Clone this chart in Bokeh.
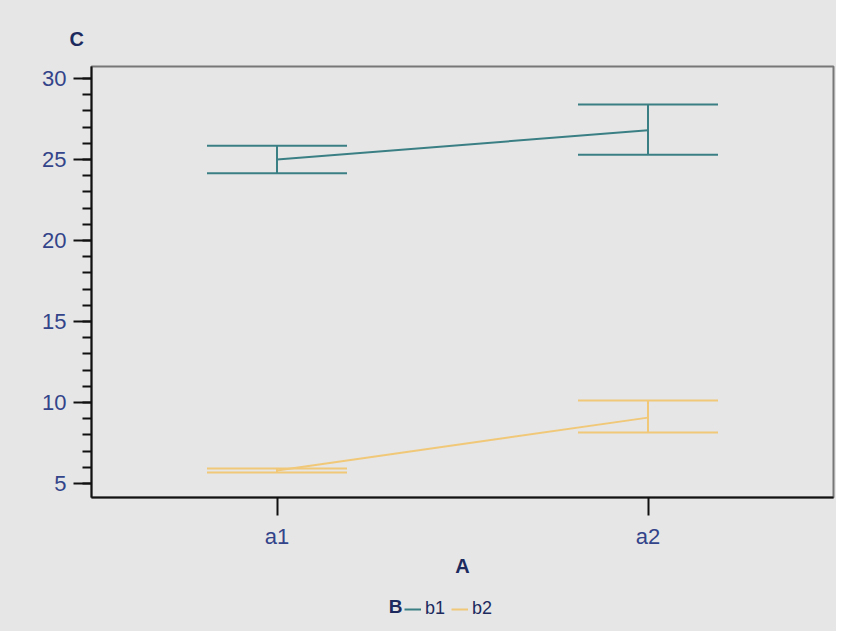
from bokeh.plotting import figure
from bokeh.layouts import column
from bokeh.models import (ColumnDataSource, Whisker, TeeHead, FixedTicker, SingleIntervalTicker,
                          Range1d, Legend, LegendItem, Label)
from bokeh.embed import file_html
from bokeh.resources import INLINE

# data
factors = ["a1", "a2"]
groups = ["b1", "b2"]
b1_mean = [25.0, 26.8]
b1_lower = [24.15, 25.3]
b1_upper = [25.85, 28.4]
b2_mean = [5.8, 9.07]
b2_lower = [5.68, 8.15]
b2_upper = [5.93, 10.12]
colors = {"b1": "#3a7f84", "b2": "#f0c878"}

xpos = [i + 1 for i in range(len(factors))]

BG = "#e6e6e6"
LABEL_COL = "#33448a"
TITLE_COL = "#1c2a5e"
FONT = "Liberation Sans"
W = 836
LEFT, RIGHT = 91, 3

p = figure(width=W, height=585, output_backend="svg", toolbar_location=None,
           x_range=Range1d(0.5, 2.5), y_range=Range1d(4.14, 30.74))
p.background_fill_color = BG
p.border_fill_color = BG
p.outline_line_color = "#777777"
p.outline_line_width = 2
p.min_border_left = LEFT
p.min_border_right = RIGHT
p.min_border_top = 66
p.min_border_bottom = 88
p.grid.visible = False

# title "C" above the y axis
p.title.text = "C"
p.title.align = "left"
p.title.offset = -22
p.title.standoff = 33
p.title.text_font = FONT
p.title.text_font_style = "bold"
p.title.text_font_size = "20px"
p.title.text_color = TITLE_COL

# x axis
p.xaxis.ticker = FixedTicker(ticks=xpos)
p.xaxis.major_label_overrides = {x: f for x, f in zip(xpos, factors)}
p.xaxis.minor_tick_line_color = None
# y axis
p.yaxis.ticker = SingleIntervalTicker(interval=5, num_minor_ticks=5)
p.yaxis.minor_tick_out = 9
p.yaxis.minor_tick_in = 0
for ax in (p.xaxis, p.yaxis):
    ax.axis_line_color = "#111111"
    ax.axis_line_width = 2
    ax.major_tick_line_color = "#111111"
    ax.major_tick_line_width = 2
    ax.major_tick_out = 18
    ax.major_tick_in = 0
    ax.minor_tick_line_width = 2
    ax.major_label_text_font = FONT
    ax.major_label_text_font_size = "22px"
    ax.major_label_text_color = LABEL_COL
p.yaxis.minor_tick_line_color = "#111111"
p.yaxis.major_label_standoff = 7
p.xaxis.major_label_standoff = 8
p.xaxis.axis_label = "A"
p.xaxis.axis_label_text_font = FONT
p.xaxis.axis_label_text_font_style = "bold"
p.xaxis.axis_label_text_font_size = "20px"
p.xaxis.axis_label_text_color = TITLE_COL
p.xaxis.axis_label_standoff = 3

series = {"b1": (b1_mean, b1_lower, b1_upper), "b2": (b2_mean, b2_lower, b2_upper)}
for g in groups:
    m, lo, hi = series[g]
    src = ColumnDataSource(dict(x=xpos, m=m, lo=lo, hi=hi))
    p.line("x", "m", source=src, line_color=colors[g], line_width=2)
    w = Whisker(base="x", lower="lo", upper="hi", source=src, line_color=colors[g], line_width=2,
                upper_head=TeeHead(size=140, line_color=colors[g], line_width=2),
                lower_head=TeeHead(size=140, line_color=colors[g], line_width=2))
    p.add_layout(w)

# legend strip below the chart (pixel coordinates relative to the frame, offset so
# the series' own lines fall outside its visible range)
LH = 46
Y0 = 1000
q = figure(width=W, height=LH, output_backend="svg", toolbar_location=None,
           x_range=Range1d(0, W - LEFT - RIGHT), y_range=Range1d(Y0, Y0 + LH),
           min_border_left=LEFT, min_border_right=RIGHT, min_border_top=0, min_border_bottom=0)
q.background_fill_color = BG
q.border_fill_color = BG
q.outline_line_color = None
q.axis.visible = False
q.grid.visible = False
items = []
for g in groups:
    m, lo, hi = series[g]
    r = q.line(x=xpos, y=m, line_color=colors[g], line_width=2)
    items.append(LegendItem(label=g, renderers=[r]))
legend = Legend(items=items, orientation="horizontal", location=(404 - LEFT, 12),
                background_fill_alpha=0, border_line_color=None,
                label_text_font=FONT, label_text_font_size="18px", label_text_color=TITLE_COL,
                glyph_width=17, glyph_height=18, spacing=6, label_standoff=4, padding=0, margin=0)
q.add_layout(legend, "center")
q.add_layout(Label(x=395 - LEFT, y=Y0 + LH - 21, text="B", text_font=FONT, text_font_style="bold",
                   text_font_size="19px", text_color=TITLE_COL, text_align="center",
                   text_baseline="middle"))

layout = column(p, q, spacing=0, styles={"background-color": BG})
open("out.html", "w").write(file_html(layout, INLINE))
